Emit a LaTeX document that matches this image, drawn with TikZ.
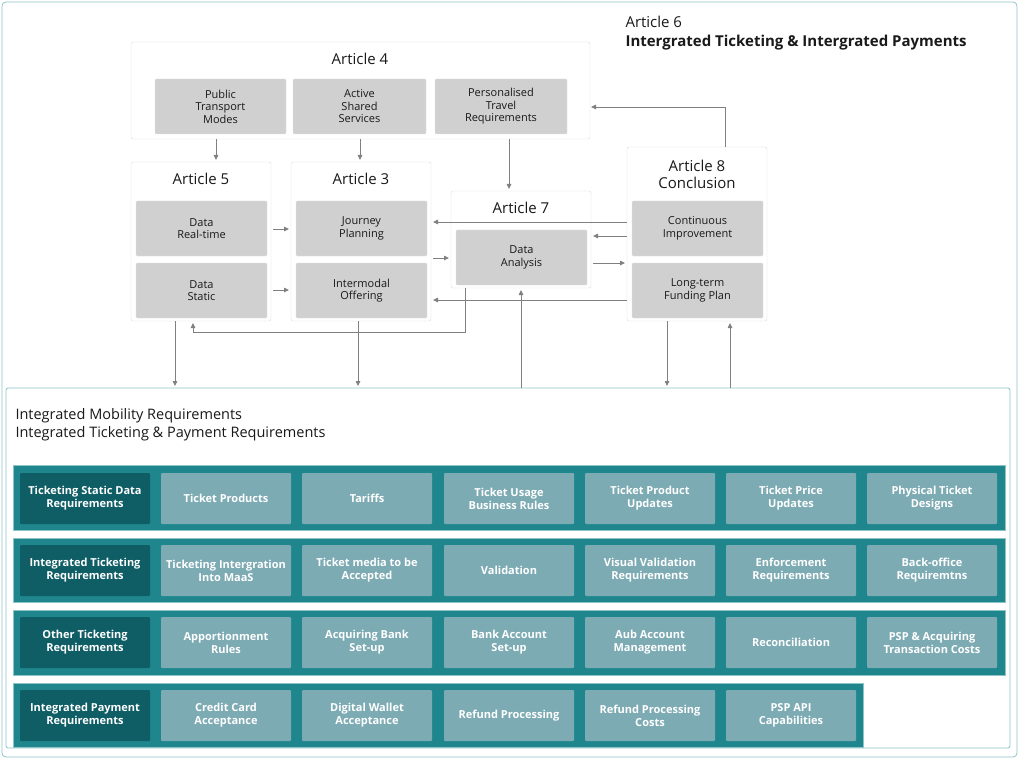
\documentclass[tikz,border=0pt]{standalone}
\usepackage{fontspec}
\setmainfont{Open Sans}
\usetikzlibrary{arrows.meta}
\definecolor{frame}{HTML}{8CC4C8}
\definecolor{rowc}{HTML}{1E868C}
\definecolor{dark}{HTML}{0F5E66}
\definecolor{cellc}{HTML}{7DABB4}
\definecolor{ingray}{HTML}{D0D0D0}
\definecolor{arr}{HTML}{808080}
\begin{document}
\begin{tikzpicture}[x=1pt,y=-1pt,
  art/.style={draw=black!15,rounded corners=2pt,fill=white},
  inner/.style={fill=ingray,draw=black!10,rounded corners=1pt,align=center,font=\fontsize{11}{12.5}\selectfont,text=black!90},
  ttl/.style={font=\fontsize{15}{17}\selectfont,text=black!90,align=center},
  ar/.style={draw=arr,line width=0.8pt,-{Triangle[length=5pt,width=4.5pt]}},
  rowbox/.style={fill=rowc,draw=frame,line width=0.6pt},
  lab/.style={fill=dark,rounded corners=1pt,text=white,font=\bfseries\fontsize{11}{13}\selectfont,align=center},
  cell/.style={fill=cellc,rounded corners=1pt,text=white,font=\bfseries\fontsize{11}{13}\selectfont,align=center}]
\useasboundingbox (0,0) rectangle (1024,759);
\fill[white] (0,0) rectangle (1024,759);
\draw[frame,rounded corners=4pt,line width=0.8pt] (2,2) rectangle (1017,757);
\draw[frame,line width=0.8pt,rounded corners=2pt] (6,388) rectangle (1010,748);
\node[anchor=north west,align=left,font=\fontsize{15}{19}\selectfont,text=black!90] (t6) at (622,13) {Article 6\\\textbf{Intergrated Ticketing \& Intergrated Payments}};
% article boxes
\draw[art] (131,42) rectangle (590,139);
\node[ttl] (t4) at (360,59) {Article 4};
\path[inner] (155,79) rectangle (286,134) node[midway] (a41) {Public\\Transport\\Modes};
\path[inner] (293,79) rectangle (426,134) node[midway] (a42) {Active\\Shared\\Services};
\path[inner] (435,79) rectangle (567,134) node[midway] (a43) {Personalised\\Travel\\Requirements};
\draw[art] (131,162) rectangle (271,321);
\node[ttl] (t5) at (201,179) {Article 5};
\path[inner] (136,201) rectangle (267,256) node[midway] (a51) {Data\\Real-time};
\path[inner] (136,263) rectangle (267,318) node[midway] (a52) {Data\\Static};
\draw[art] (291,162) rectangle (431,321);
\node[ttl] (t3) at (361,179) {Article 3};
\path[inner] (296,201) rectangle (427,256) node[midway] (a31) {Journey\\Planning};
\path[inner] (296,263) rectangle (427,318) node[midway] (a32) {Intermodal\\Offering};
\draw[art] (451,191) rectangle (591,288);
\node[ttl] (t7) at (521,208) {Article 7};
\path[inner] (456,230) rectangle (587,285) node[midway] (a71) {Data\\Analysis};
\draw[art] (627,147) rectangle (767,321);
\node[ttl] (t8) at (697,174) {Article 8\\Conclusion};
\path[inner] (632,201) rectangle (763,256) node[midway] (a81) {Continuous\\Improvement};
\path[inner] (632,263) rectangle (763,318) node[midway] (a82) {Long-term\\Funding Plan};
% arrows
\coordinate (p1) at (216,139); \coordinate (q1) at (216,160);
\draw[ar] (p1)--(q1);
\coordinate (p2) at (360,139); \coordinate (q2) at (360,160);
\draw[ar] (p2)--(q2);
\coordinate (p3) at (509,139); \coordinate (q3) at (509,189);
\draw[ar] (p3)--(q3);
\coordinate (p4) at (725,147); \coordinate (q4) at (591,107);
\draw[ar] (p4)--(725,107)--(q4);
\draw[ar] (273,229)--(289,229);
\draw[ar] (273,290)--(289,290);
\draw[ar] (433,258)--(449,258);
\draw[ar] (627,222)--(433,222);
\draw[ar] (627,236)--(593,236);
\draw[ar] (593,263)--(625,263);
\draw[ar] (627,300)--(433,300);
\draw[ar] (465,288)--(465,332)--(193,332)--(193,323);
\draw[ar] (175,321)--(175,386);
\draw[ar] (358,321)--(358,386);
\draw[ar] (521,388)--(521,290);
\draw[ar] (667,321)--(667,386);
\draw[ar] (730,388)--(730,323);
\node[anchor=north west,align=left,font=\fontsize{14.5}{18}\selectfont,text=black!90] (bt) at (12,405) {Integrated Mobility Requirements\\Integrated Ticketing \& Payment Requirements};
% rows
\def\cx{{161,302,444,585,726,867}}
\newcommand\rowcells[3]{%
 \path[lab] (20,#1+7) rectangle (150,#1+58) node[midway] {#2};
 \foreach \t [count=\i from 0] in {#3} {
   \pgfmathsetmacro\xa{\cx[\i]}
   \path[cell] (\xa,#1+7) rectangle (\xa+130,#1+58) node[midway] {\t};
 }}
\draw[rowbox] (13,465) rectangle (1005,530);
\rowcells{466}{Ticketing Static Data\\Requirements}{Ticket Products,Tariffs,Ticket Usage\\Business Rules,Ticket Product\\Updates,Ticket Price\\Updates,Physical Ticket\\Designs}
\draw[rowbox] (13,538) rectangle (1005,602);
\rowcells{538}{Integrated Ticketing\\Requirements}{Ticketing Intergration\\Into MaaS,Ticket media to be\\Accepted,Validation,Visual Validation\\Requirements,Enforcement\\Requirements,Back-office\\Requiremtns}
\draw[rowbox] (13,610) rectangle (1005,675);
\rowcells{610}{Other Ticketing\\Requirements}{Apportionment\\Rules,Acquiring Bank\\Set-up,Bank Account\\Set-up,Aub Account\\Management,Reconciliation,PSP \& Acquiring\\Transaction Costs}
\draw[rowbox] (13,683) rectangle (863,747);
\rowcells{683}{Integrated Payment\\Requirements}{Credit Card\\Acceptance,Digital Wallet\\Acceptance,Refund Processing,Refund Processing\\Costs,PSP API\\Capabilities}
\end{tikzpicture}
\end{document}
